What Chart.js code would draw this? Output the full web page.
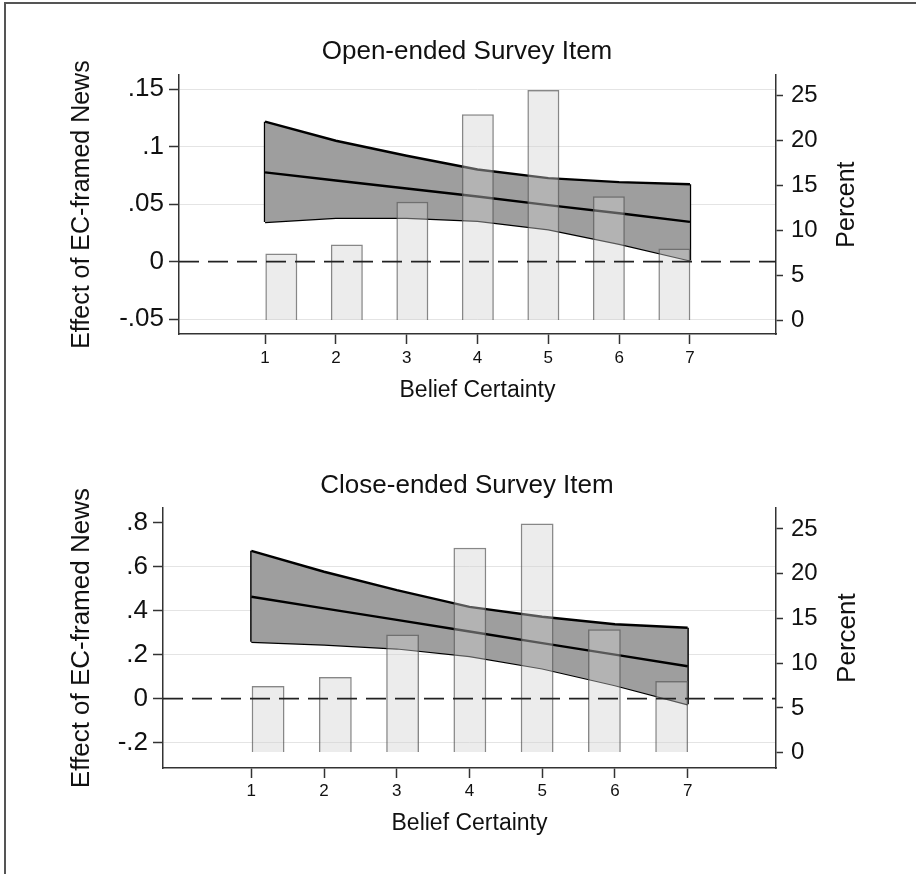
<!DOCTYPE html>
<html>
<head>
<meta charset="utf-8">
<script src="https://cdn.jsdelivr.net/npm/chart.js@4.4.0/dist/chart.umd.min.js"></script>
<style>
  body { margin: 0; background: #fff; }
  #wrap { position: relative; width: 916px; height: 874px; overflow: hidden; }
  #frame { position: absolute; left: 4px; top: 2px; right: -10px; bottom: -10px;
           border-left: 2px solid #555; border-top: 2px solid #555; }
  canvas { position: absolute; left: 0; }
  #c1 { top: 0; }
  #c2 { top: 437px; }
</style>
</head>
<body>
<div id="wrap">
  <div id="frame"></div>
  <canvas id="c1" width="916" height="437"></canvas>
  <canvas id="c2" width="916" height="437"></canvas>
</div>
<script>
// belief certainty levels (x) and the histogram bars under the margins
const certainty = [1, 2, 3, 4, 5, 6, 7];
const binCenters = [1.23, 2.155, 3.08, 4.005, 4.93, 5.855, 6.78];
const pctShares = [7.45, 8.45, 13.2, 22.9, 25.6, 13.8, 8.0];
const xRange = [-0.215, 8.215];

// open-ended item: effect and 95% CI
const openEst = [0.0775, 0.0705, 0.0635, 0.0565, 0.049, 0.042, 0.0345];
const openUpper = [0.1216, 0.105, 0.092, 0.080, 0.0725, 0.069, 0.0672];
const openLower = [0.0343, 0.038, 0.038, 0.0355, 0.028, 0.0155, 0.001];
const openTicks = [-0.05, 0, 0.05, 0.1, 0.15];
const openTickLabels = ['-.05', '0', '.05', '.1', '.15'];

// close-ended item
const closeEst = [0.463, 0.41, 0.358, 0.305, 0.252, 0.2, 0.147];
const closeUpper = [0.672, 0.577, 0.493, 0.417, 0.372, 0.338, 0.322];
const closeLower = [0.258, 0.246, 0.228, 0.193, 0.137, 0.061, -0.026];
const closeTicks = [-0.2, 0, 0.2, 0.4, 0.6, 0.8];
const closeTickLabels = ['-.2', '0', '.2', '.4', '.6', '.8'];

const pctTicks = [0, 5, 10, 15, 20, 25];

Chart.defaults.font.family = '"Liberation Sans", Arial, Helvetica, sans-serif';
Chart.defaults.color = '#111';

const ink = '#222';
const axisInk = '#333';

// right-hand "Percent" title, read bottom-to-top like the left one
const sideTitle = {
  id: 'sideTitle',
  afterDraw(chart, args, opts) {
    const s = chart.scales.yPct;
    const c = chart.ctx;
    c.save();
    c.font = opts.size + 'px "Liberation Sans", Arial, sans-serif';
    c.fillStyle = '#111';
    c.textAlign = 'center';
    c.textBaseline = 'middle';
    c.translate(s.right - opts.offset, (s.top + s.bottom) / 2);
    c.rotate(-Math.PI / 2);
    c.fillText(opts.text, 0, 0);
    c.restore();
  }
};

function pts(ys) {
  return certainty.map((x, i) => ({x: x, y: ys[i]}));
}

function makePanel(id, p) {
  const last = certainty.length - 1;
  new Chart(document.getElementById(id), {
    type: 'bar',
    data: {
      datasets: [
        {
          type: 'line', data: [{x: xRange[0], y: 0}, {x: xRange[1], y: 0}],
          borderColor: ink, borderWidth: 1.8, borderDash: [20, 9],
          pointRadius: 0, yAxisID: 'y', order: -1
        },
        {
          type: 'bar', data: binCenters.map((x, i) => ({x: x, y: pctShares[i]})),
          backgroundColor: 'rgba(209,209,209,0.42)',
          borderColor: 'rgba(95,95,95,0.75)', borderWidth: 1.5,
          barPercentage: 0.61, categoryPercentage: 0.8,
          yAxisID: 'yPct', order: 0
        },
        {
          type: 'line', data: pts(p.est), borderColor: '#000', borderWidth: 2.4,
          pointRadius: 0, yAxisID: 'y', order: 1
        },
        {
          type: 'line', data: pts(p.upper), borderColor: '#000', borderWidth: 2.4,
          backgroundColor: '#9e9e9e', fill: '+1',
          pointRadius: 0, yAxisID: 'y', order: 2
        },
        {
          type: 'line', data: pts(p.lower), borderColor: '#000', borderWidth: 2.4,
          pointRadius: 0, yAxisID: 'y', order: 2
        },
        {
          type: 'line', data: [{x: certainty[0], y: p.lower[0]}, {x: certainty[0], y: p.upper[0]}],
          borderColor: '#000', borderWidth: 2.4, pointRadius: 0, yAxisID: 'y', order: 2
        },
        {
          type: 'line', data: [{x: certainty[last], y: p.lower[last]}, {x: certainty[last], y: p.upper[last]}],
          borderColor: '#000', borderWidth: 2.4, pointRadius: 0, yAxisID: 'y', order: 2
        }
      ]
    },
    options: {
      responsive: false,
      animation: false,
      layout: { padding: { left: 18, right: 0, top: 0, bottom: 0 } },
      plugins: {
        legend: { display: false },
        tooltip: { enabled: false },
        title: {
          display: true, text: p.title, color: '#111',
          font: { size: 26, weight: 'normal' },
          padding: { top: p.titleTop, bottom: p.titleBottom }
        },
        sideTitle: { text: 'Percent', size: p.yTitleSize, offset: p.percentOffset }
      },
      scales: {
        x: {
          type: 'linear', min: xRange[0], max: xRange[1], offset: false,
          afterBuildTicks: s => { s.ticks = certainty.map(v => ({value: v})); },
          afterFit: s => { s.height = p.xHeight; },
          ticks: { font: { size: 17 }, color: '#111', padding: p.xLabelPad, maxRotation: 0, autoSkip: false },
          grid: { offset: false, drawOnChartArea: false, tickLength: 10, tickColor: axisInk, tickWidth: 1.5 },
          border: { display: true, color: axisInk, width: 1.5 },
          title: {
            display: true, text: 'Belief Certainty', color: '#111',
            font: { size: 23 }, padding: { top: 0, bottom: p.xTitlePad }
          }
        },
        y: {
          type: 'linear', position: 'left', min: p.yMin, max: p.yMax,
          afterBuildTicks: s => { s.ticks = p.ticks.map(v => ({value: v})); },
          afterFit: s => { s.width = p.leftWidth; },
          ticks: {
            font: { size: 26 }, color: '#111', padding: 5,
            callback: v => p.tickLabels[p.ticks.indexOf(v)]
          },
          grid: {
            color: ctx => p.noGrid.includes(ctx.tick.value) ? 'rgba(0,0,0,0)' : '#e4e4e4',
            lineWidth: 1, tickLength: 10, tickColor: axisInk, tickWidth: 1.5
          },
          border: { display: true, color: axisInk, width: 1.5 },
          title: {
            display: true, text: 'Effect of EC-framed News', color: '#111',
            font: { size: p.yTitleSize }, padding: { top: p.yTitlePad, bottom: 0 }
          }
        },
        yPct: {
          type: 'linear', position: 'right', min: p.pctMin, max: p.pctMax,
          afterBuildTicks: s => { s.ticks = pctTicks.map(v => ({value: v})); },
          afterFit: s => { s.width = 140; },
          ticks: { font: { size: 24 }, color: '#111', padding: 8 },
          grid: { drawOnChartArea: false, tickLength: 7, tickColor: axisInk, tickWidth: 1.5 },
          border: { display: true, color: axisInk, width: 1.5 }
        }
      }
    },
    plugins: [sideTitle]
  });
}

makePanel('c1', {
  title: 'Open-ended Survey Item', titleTop: 36, titleBottom: 8,
  est: openEst, upper: openUpper, lower: openLower,
  yMin: -0.063, yMax: 0.162, ticks: openTicks, tickLabels: openTickLabels, noGrid: [0],
  pctMin: -1.5, pctMax: 27.25,
  leftWidth: 161, xHeight: 103, xLabelPad: 4, xTitlePad: 33,
  yTitleSize: 25, yTitlePad: 49, percentOffset: 69
});

makePanel('c2', {
  title: 'Close-ended Survey Item', titleTop: 33, titleBottom: 7,
  est: closeEst, upper: closeUpper, lower: closeLower,
  yMin: -0.316, yMax: 0.866, ticks: closeTicks, tickLabels: closeTickLabels, noGrid: [0, 0.8],
  pctMin: -1.72, pctMax: 27.32,
  leftWidth: 145, xHeight: 106, xLabelPad: 3, xTitlePad: 37,
  yTitleSize: 26, yTitlePad: 48, percentOffset: 68
});
</script>
</body>
</html>
